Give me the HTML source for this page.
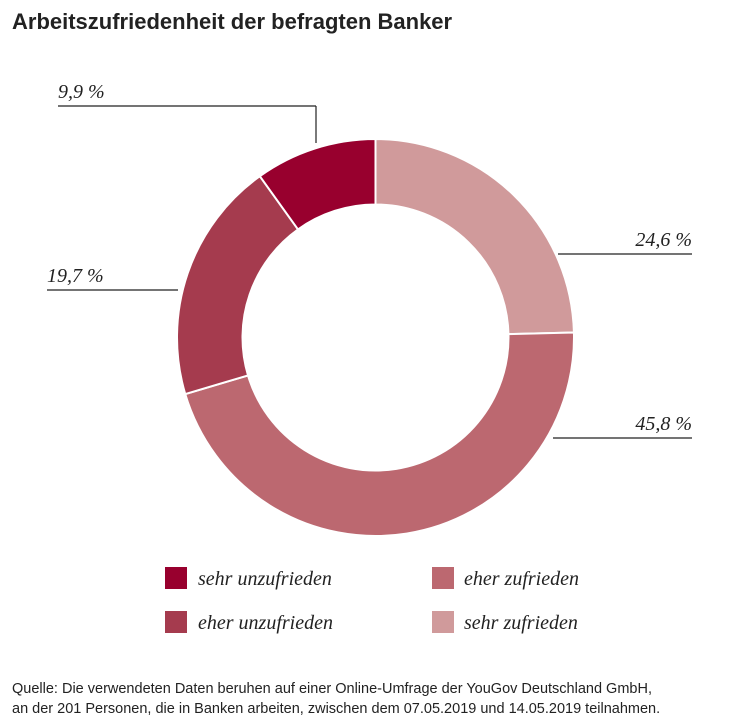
<!DOCTYPE html>
<html><head><meta charset="utf-8"><style>
body{margin:0;background:#fff;width:750px;height:722px;overflow:hidden;font-family:"Liberation Sans",sans-serif}
</style></head><body>
<svg width="750" height="722">
<text x="12" y="29" font-family="Liberation Sans" font-weight="bold" font-size="22" fill="#222">Arbeitszufriedenheit der befragten Banker</text>
<g id="donut"></g>
<g font-family="Liberation Serif" font-style="italic" font-size="20" fill="#222" stroke-width="1.2">
<line x1="58" y1="106" x2="316" y2="106" stroke="#222"/>
<line x1="316" y1="106" x2="316" y2="143" stroke="#222"/>
<text x="58" y="98">9,9 %</text>
<line x1="47" y1="290" x2="178" y2="290" stroke="#222"/>
<text x="47" y="282">19,7 %</text>
<line x1="558" y1="254" x2="692" y2="254" stroke="#222"/>
<text x="692" y="246" text-anchor="end">24,6 %</text>
<line x1="553" y1="438" x2="692" y2="438" stroke="#222"/>
<text x="692" y="430" text-anchor="end">45,8 %</text>
</g>
<g font-family="Liberation Serif" font-style="italic" font-size="20" fill="#222">
<rect x="165" y="567" width="22" height="22" fill="#98002e"/>
<text x="198" y="585">sehr unzufrieden</text>
<rect x="165" y="611" width="22" height="22" fill="#a53b4e"/>
<text x="198" y="629">eher unzufrieden</text>
<rect x="432" y="567" width="22" height="22" fill="#bc6870"/>
<text x="464" y="585">eher zufrieden</text>
<rect x="432" y="611" width="22" height="22" fill="#d09a9b"/>
<text x="464" y="629">sehr zufrieden</text>
</g>
<g font-family="Liberation Sans" font-size="14.5" fill="#222">
<text x="12" y="693">Quelle: Die verwendeten Daten beruhen auf einer Online-Umfrage der YouGov Deutschland GmbH,</text>
<text x="12" y="713">an der 201 Personen, die in Banken arbeiten, zwischen dem 07.05.2019 und 14.05.2019 teilnahmen.</text>
</g>
</svg>
<script>
const categories=["sehr zufrieden","eher zufrieden","eher unzufrieden","sehr unzufrieden"];
const values=[24.6,45.8,19.7,9.9];
const colors=["#d09a9b","#bc6870","#a53b4e","#98002e"];
const cx=375.5,cy=337.5,R=198.5,r=133;
const g=document.getElementById('donut');
const total=values.reduce((a,b)=>a+b,0);
let a0=0;
function pt(rad,a){return [cx+rad*Math.sin(a),cy-rad*Math.cos(a)];}
values.forEach((v,i)=>{
  const a1=a0+v/total*2*Math.PI;
  const large=(a1-a0)>Math.PI?1:0;
  const p1=pt(R,a0),p2=pt(R,a1),p3=pt(r,a1),p4=pt(r,a0);
  const p=document.createElementNS('http://www.w3.org/2000/svg','path');
  p.setAttribute('d',`M${p1}A${R},${R} 0 ${large} 1 ${p2}L${p3}A${r},${r} 0 ${large} 0 ${p4}Z`);
  p.setAttribute('fill',colors[i]);
  p.setAttribute('stroke','#fff');
  p.setAttribute('stroke-width','2');
  
  
  g.appendChild(p);
  a0=a1;
});
</script>
</body></html>
